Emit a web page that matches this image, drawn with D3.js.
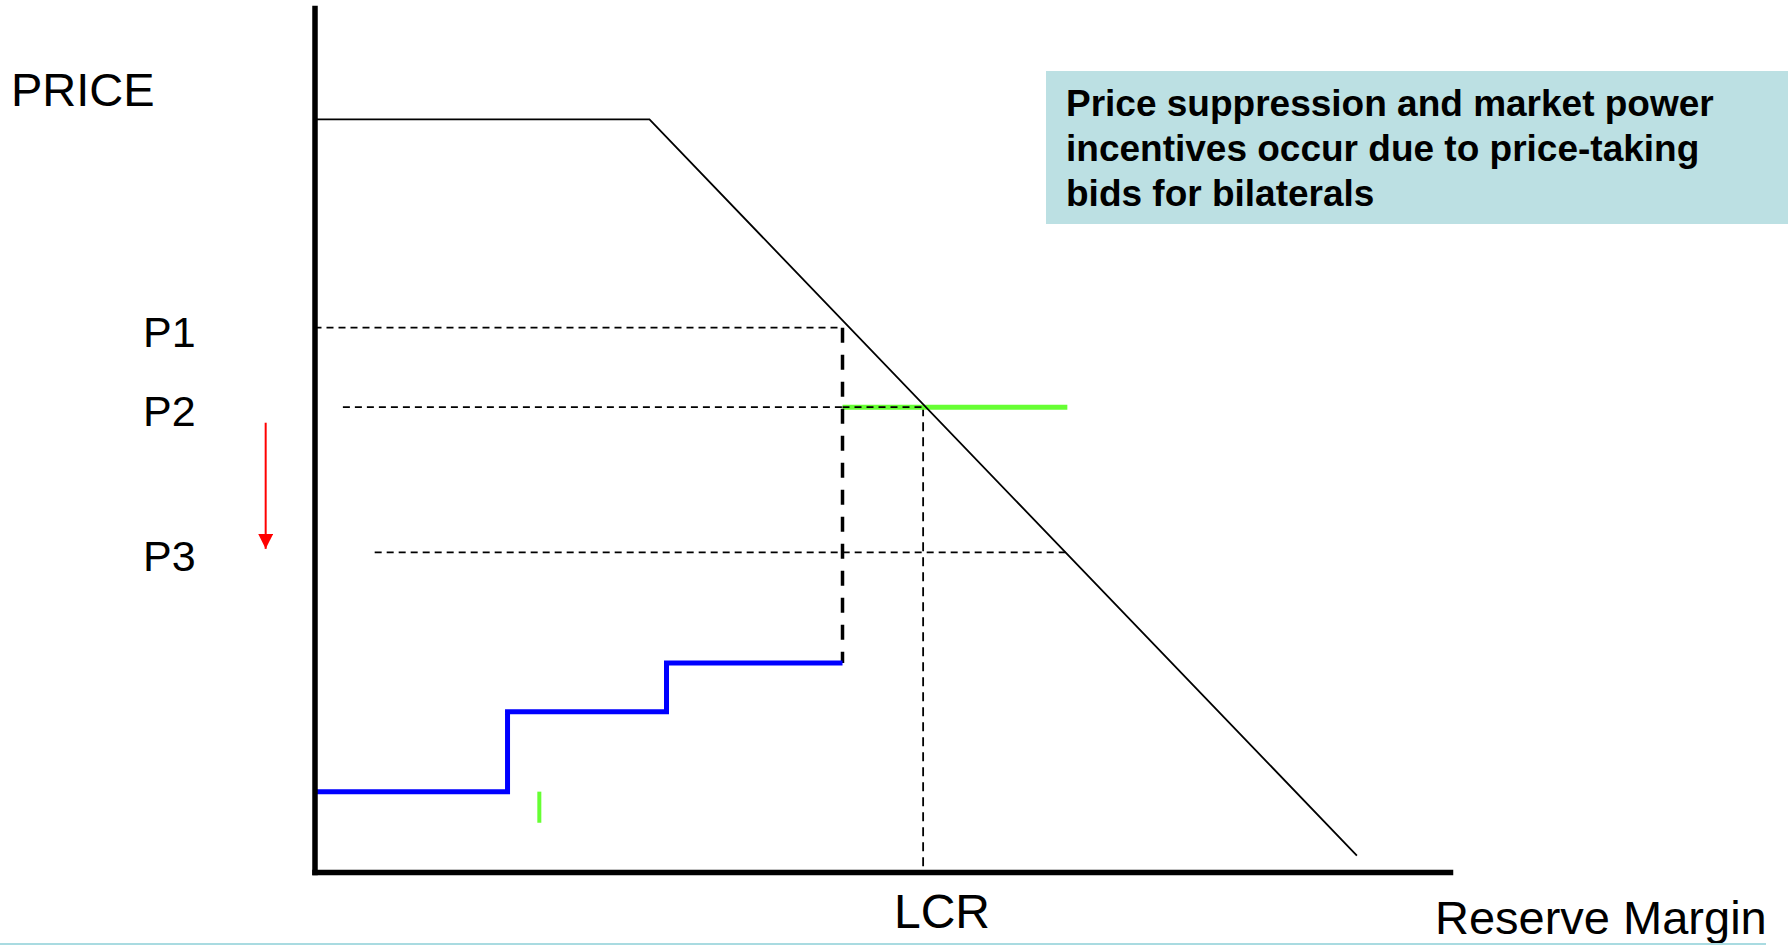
<!DOCTYPE html>
<html>
<head>
<meta charset="utf-8">
<script src="https://cdn.jsdelivr.net/npm/d3@7"></script>
<style>
    html, body { margin:0; padding:0; background:#fff; }
    svg { display:block; font-family:"Liberation Sans", Arial, sans-serif; }
</style>
</head>
<body>
<div id="chart"></div>
<script>
// demand curve (reserve margin %, price index)
var demandX = [0, 29.5, 91.8];
var demandY = [87.1, 87.1, 1.9];

// blue stepped supply offers
var stepX = [0, 17.0, 31.0, 46.5];
var stepY = [9.3, 18.55, 24.2, 24.2];

// price levels
var priceLabels = ['P1', 'P2', 'P3'];
var priceValues = [63.0, 53.8, 37.0];
var priceLineFrom = [0, 2.5, 5.3];
var priceLineTo = [46.5, 53.6, 66.3];

// bilateral quantity / LCR
var bilateralX = 46.5;
var lcrX = 53.6;
var greenBidX = [46.5, 66.3];
var greenTickX = 19.8;
var greenTickY = [5.7, 9.3];
var arrowX = -4.3;
var arrowY = [52.0, 37.4];

var boxLines = [
    'Price suppression and market power',
    'incentives occur due to price-taking',
    'bids for bilaterals'
];

var W = 1788, H = 945;
var x = d3.scaleLinear().domain([0, 100]).range([314.5, 1450]);
var y = d3.scaleLinear().domain([0, 100]).range([872, 8]);

var svg = d3.select('#chart').append('svg')
    .attr('width', W).attr('height', H);

svg.append('defs').append('marker')
    .attr('id', 'redHead')
    .attr('viewBox', '0 0 10 10')
    .attr('refX', 10).attr('refY', 5)
    .attr('markerWidth', 7.5).attr('markerHeight', 7.5)
    .attr('markerUnits', 'strokeWidth')
    .attr('orient', 'auto')
    .append('path').attr('d', 'M0,0L10,5L0,10Z').attr('fill', '#ff0000');

// text box top right
svg.append('rect')
    .attr('x', 1046).attr('y', 71).attr('width', W - 1046).attr('height', 153)
    .attr('fill', '#bce0e3');
svg.append('g').selectAll('text').data(boxLines).enter().append('text')
    .attr('x', 1066)
    .attr('y', (d, i) => 116 + i * 45)
    .attr('font-size', '37px').attr('font-weight', 'bold')
    .attr('fill', '#000')
    .text(d => d);

// dashed price lines
svg.append('g').selectAll('line').data(priceValues).enter().append('line')
    .attr('x1', (d, i) => x(priceLineFrom[i]))
    .attr('x2', (d, i) => x(priceLineTo[i]))
    .attr('y1', d => y(d)).attr('y2', d => y(d))
    .attr('stroke', '#000').attr('stroke-width', 1.8)
    .attr('stroke-dasharray', '7,5');

svg.append('g').selectAll('text').data(priceLabels).enter().append('text')
    .attr('x', 143)
    .attr('y', (d, i) => y(priceValues[i]) + 19)
    .attr('font-size', '43px')
    .text(d => d);

// LCR vertical
svg.append('line')
    .attr('x1', x(lcrX)).attr('x2', x(lcrX))
    .attr('y1', y(priceValues[1])).attr('y2', y(0))
    .attr('stroke', '#000').attr('stroke-width', 1.8)
    .attr('stroke-dasharray', '9,6');

// green price-taking bid line
svg.append('line')
    .attr('x1', x(greenBidX[0])).attr('x2', x(greenBidX[1]))
    .attr('y1', y(priceValues[1])).attr('y2', y(priceValues[1]))
    .attr('stroke', '#66ff33').attr('stroke-width', 5);
// P2 dash sits over green too
svg.append('line')
    .attr('x1', x(greenBidX[0])).attr('x2', x(lcrX))
    .attr('y1', y(priceValues[1])).attr('y2', y(priceValues[1]))
    .attr('stroke', '#000').attr('stroke-width', 1.8)
    .attr('stroke-dasharray', '7,5');

// thick dashed bilateral vertical
svg.append('line')
    .attr('x1', x(bilateralX)).attr('x2', x(bilateralX))
    .attr('y1', y(priceValues[0])).attr('y2', y(stepY[stepY.length - 1]))
    .attr('stroke', '#000').attr('stroke-width', 3.5)
    .attr('stroke-dasharray', '15,12');

// blue supply steps
var stepPts = stepX.map((d, i) => [d, stepY[i]]);
svg.append('path')
    .datum(stepPts)
    .attr('d', d3.line().x(d => x(d[0])).y(d => y(d[1])).curve(d3.curveStepAfter))
    .attr('fill', 'none').attr('stroke', '#0000ff').attr('stroke-width', 5);

// small green tick
svg.append('line')
    .attr('x1', x(greenTickX)).attr('x2', x(greenTickX))
    .attr('y1', y(greenTickY[0])).attr('y2', y(greenTickY[1]))
    .attr('stroke', '#66ff33').attr('stroke-width', 4);

// demand curve
var demandPts = demandX.map((d, i) => [d, demandY[i]]);
svg.append('path')
    .datum(demandPts)
    .attr('d', d3.line().x(d => x(d[0])).y(d => y(d[1])))
    .attr('fill', 'none').attr('stroke', '#000').attr('stroke-width', 1.8);

// red arrow
svg.append('line')
    .attr('x1', x(arrowX)).attr('x2', x(arrowX))
    .attr('y1', y(arrowY[0])).attr('y2', y(arrowY[1]))
    .attr('stroke', '#ff0000').attr('stroke-width', 2)
    .attr('marker-end', 'url(#redHead)');

// axes, no ticks
svg.append('g')
    .attr('transform', 'translate(0,' + y(0) + ')')
    .call(d3.axisBottom(x).ticks(0).tickSizeOuter(0));
svg.append('g')
    .attr('transform', 'translate(' + x(0) + ',0)')
    .call(d3.axisLeft(y).ticks(0).tickSizeOuter(0));
svg.selectAll('.domain').attr('stroke', '#000').attr('stroke-width', 5.5)
    .attr('stroke-linecap', 'square');

// labels
svg.append('text').attr('x', 11).attr('y', 106)
    .attr('font-size', '47px').text('PRICE');
svg.append('text').attr('x', 942).attr('y', 928)
    .attr('text-anchor', 'middle')
    .attr('font-size', '48px').text('LCR');
svg.append('text').attr('x', 1435).attr('y', 934)
    .attr('font-size', '47px').text('Reserve Margin');

// thin rule along the bottom
svg.append('line')
    .attr('x1', 0).attr('x2', 1766).attr('y1', 944).attr('y2', 944)
    .attr('stroke', '#a9dbe1').attr('stroke-width', 2);
</script>
</body>
</html>
